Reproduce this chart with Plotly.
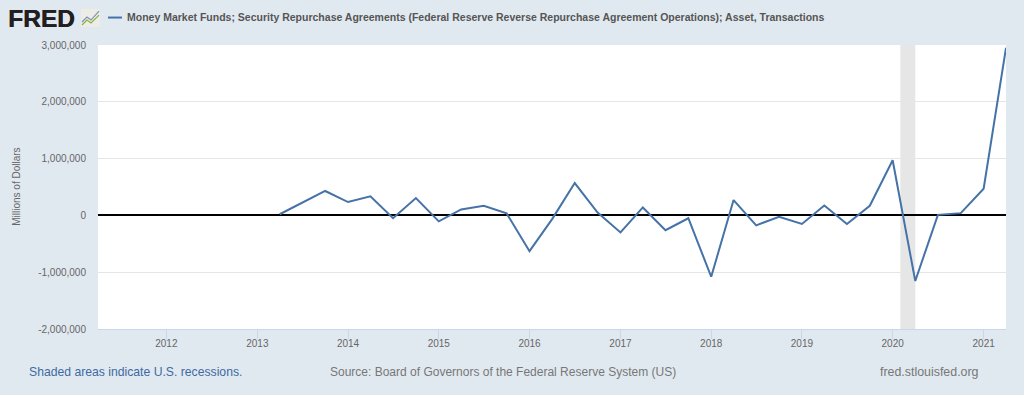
import plotly.graph_objects as go

dates = ["2013-04-01","2013-07-01","2013-10-01","2014-01-01","2014-04-01","2014-07-01","2014-10-01",
         "2015-01-01","2015-04-01","2015-07-01","2015-10-01","2016-01-01","2016-04-01","2016-07-01","2016-10-01",
         "2017-01-01","2017-04-01","2017-07-01","2017-10-01","2018-01-01","2018-04-01","2018-07-01","2018-10-01",
         "2019-01-01","2019-04-01","2019-07-01","2019-10-01","2020-01-01","2020-04-01","2020-07-01","2020-10-01",
         "2021-01-01","2021-04-01"]
values = [20000,230000,430000,235000,335000,-50000,305000,
          -105000,105000,170000,35000,-630000,-65000,570000,50000,
          -300000,140000,-260000,-50000,-1080000,270000,-175000,-25000,
          -150000,175000,-150000,170000,970000,-1155000,10000,40000,
          470000,2950000]
year_ticks = ["2012-01-01","2013-01-01","2014-01-01","2015-01-01","2016-01-01","2017-01-01","2018-01-01","2019-01-01","2020-01-01","2021-01-01"]
year_labels = ["2012","2013","2014","2015","2016","2017","2018","2019","2020","2021"]
y_ticks = [-2000000,-1000000,0,1000000,2000000,3000000]
y_labels = ["-2,000,000","-1,000,000","0","1,000,000","2,000,000","3,000,000"]
recession = ("2020-02-01","2020-04-01")
title = "Money Market Funds; Security Repurchase Agreements (Federal Reserve Reverse Repurchase Agreement Operations); Asset, Transactions"

W, H = 1024, 395
L, R, T, B = 98, 1006, 45, 329.5
FONT = "Liberation Sans, Arial, sans-serif"
def px(x): return (x - L) / (R - L)
def py(y): return (B - y) / (B - T)

fig = go.Figure(go.Scatter(x=dates, y=values, mode="lines",
                           line=dict(color="#4572a7", width=2), hoverinfo="skip", showlegend=False))

fig.add_shape(type="rect", xref="x", yref="paper", x0=recession[0], x1=recession[1], y0=0, y1=1,
              fillcolor="#e6e6e6", line_width=0, layer="below")
# legend key
fig.add_shape(type="line", xref="paper", yref="paper", x0=px(108), x1=px(122), y0=py(17.5), y1=py(17.5),
              line=dict(color="#4572a7", width=2))
# logo icon
fig.add_shape(type="rect", xref="paper", yref="paper", x0=px(81), x1=px(100), y0=py(9), y1=py(27),
              fillcolor="#eeece6", line_width=0)
fig.add_shape(type="path", xref="paper", yref="paper",
              path=f"M {px(82)} {py(22)} L {px(87)} {py(17)} L {px(91)} {py(20)} L {px(99)} {py(11)}",
              line=dict(color="#7a93b0", width=1.2))
fig.add_shape(type="path", xref="paper", yref="paper",
              path=f"M {px(82)} {py(25)} L {px(87)} {py(20)} L {px(91)} {py(23)} L {px(99)} {py(15)}",
              line=dict(color="#8ab04a", width=1.2))

def note(text, x, y, size, color, anchor="left", bold=False, shadow=None):
    f = dict(family=FONT, size=size, color=color)
    if shadow:
        f["shadow"] = shadow
    fig.add_annotation(xref="paper", yref="paper", x=px(x), y=py(y), text=f"<b>{text}</b>" if bold else text,
                       showarrow=False, xanchor=anchor, yanchor="middle", borderpad=0, borderwidth=0, font=f)

note("FRED", 8, 18, 24.5, "#231f20", bold=True, shadow="0.6px 0 0 #231f20")
note(title, 127, 17, 10.5, "#555555", bold=True)
note("Shaded areas indicate U.S. recessions.", 29, 373, 12.2, "#3e6aa3")
note("Source: Board of Governors of the Federal Reserve System (US)", 330, 373, 12, "#777777")
note("fred.stlouisfed.org", 979, 373, 12.4, "#777777", anchor="right")
fig.add_annotation(xref="paper", yref="paper", x=px(17), y=py(187), text="Millions of Dollars", textangle=-90,
                   showarrow=False, xanchor="center", yanchor="middle",
                   font=dict(family=FONT, size=10, color="#666666"))

fig.update_layout(
    width=W, height=H, autosize=False,
    paper_bgcolor="#e1e9f0", plot_bgcolor="#ffffff", showlegend=False,
    margin=dict(l=L, r=W - R, t=T, b=H - B),
    xaxis=dict(type="date", range=["2011-04-01", "2021-04-01"], tickvals=year_ticks, ticktext=year_labels,
               showgrid=False, zeroline=False, ticks="outside", ticklen=9, tickwidth=1, tickcolor="#ccd6eb",
               showline=True, linecolor="#ccd6eb", linewidth=1, ticklabelstandoff=-4,
               tickfont=dict(family=FONT, size=10, color="#666666")),
    yaxis=dict(range=[-2000000, 3000000], tickvals=y_ticks, ticktext=y_labels, ticks="",
               showgrid=True, gridcolor="#e6e6e6", gridwidth=1,
               zeroline=True, zerolinecolor="#000000", zerolinewidth=2,
               ticklabelstandoff=11, showline=False,
               tickfont=dict(family=FONT, size=10, color="#666666")),
)
fig.write_html("out.html", config={"displayModeBar": False},
               post_script="document.body.style.margin='0';document.body.style.background='#e1e9f0';")
